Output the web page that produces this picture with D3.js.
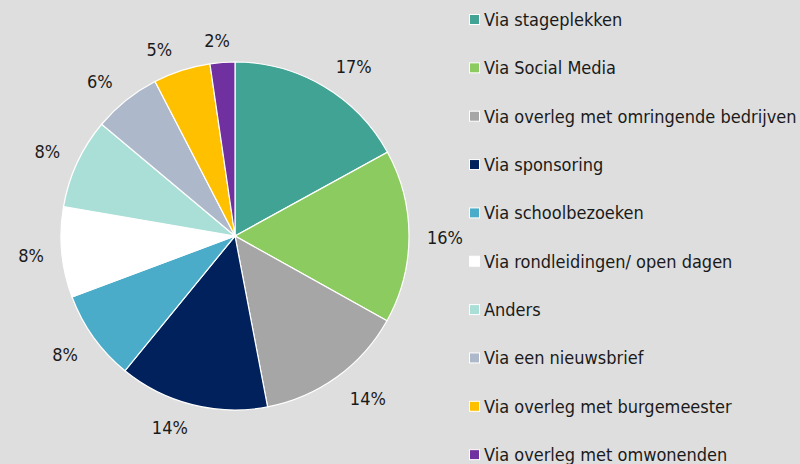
<!DOCTYPE html>
<html>
<head>
<meta charset="utf-8">
<script src="https://cdn.jsdelivr.net/npm/d3@7"></script>
<style>
  body { margin: 0; background: #dedede; }
  svg { display: block; }
</style>
</head>
<body>
<svg class="pieSVG" width="800" height="464"></svg>
<script>
const categories = [
  "Via stageplekken",
  "Via Social Media",
  "Via overleg met omringende bedrijven",
  "Via sponsoring",
  "Via schoolbezoeken",
  "Via rondleidingen/ open dagen",
  "Anders",
  "Via een nieuwsbrief",
  "Via overleg met burgemeester",
  "Via overleg met omwonenden"
]
const values = [17.0, 16.1, 13.9, 13.9, 8.4, 8.4, 8.4, 6.3, 5.3, 2.3]
const colors = ["#41a393", "#8ccb5f", "#a6a6a6", "#00215b", "#4bacc9", "#ffffff",
  "#aadfd8", "#adb9ca", "#ffc000", "#7030a0"]

const FONT = "'DejaVu Sans Condensed', 'DejaVu Sans', Verdana, sans-serif"

const svg = d3.select(".pieSVG")
const config = { cx: 235, cy: 236, r: 174, labelR: 186, padX: 6, padY: 3 }

const pie = d3.pie().sort(null).value(d => d)
const arcs = pie(values)
const arc = d3.arc().innerRadius(0).outerRadius(config.r)

const g = svg.append("g")
  .attr("transform", `translate(${config.cx},${config.cy})`)

g.selectAll("path")
  .data(arcs)
  .join("path")
  .attr("d", arc)
  .attr("fill", (d, i) => colors[i])
  .attr("stroke", "white")
  .attr("stroke-width", 1.2)

// labels buiten de taart: labelvak (met marge) met de dichtstbijzijnde hoek tegen het ankerpunt
const clamp = v => Math.max(-1, Math.min(1, v))
const labels = g.selectAll("text")
  .data(arcs)
  .join("text")
  .attr("text-anchor", "middle")
  .attr("dy", "0.4em")
  .attr("font-family", FONT)
  .attr("font-size", "18px")
  .attr("fill", "#1a1a1a")
  .text(d => Math.round(d.data) + "%")

labels.attr("transform", function (d) {
  const a = (d.startAngle + d.endAngle) / 2
  const s = Math.sin(a), c = Math.cos(a)
  const w = this.getComputedTextLength() + 2 * config.padX
  const h = 15 + 2 * config.padY
  const x = config.labelR * s + (w / 2) * clamp(3.3 * s)
  const y = -config.labelR * c - (h / 2) * clamp(1.5 * c)
  return `translate(${x},${y})`
})

// legenda
const legend = svg.append("g")
  .selectAll("g")
  .data(categories)
  .join("g")
  .attr("transform", (d, i) => `translate(469,${19.5 + i * 48.35})`)

legend.append("rect")
  .attr("x", 0.5)
  .attr("y", -5)
  .attr("width", 10)
  .attr("height", 10)
  .attr("fill", (d, i) => colors[i])
  .attr("stroke", "white")
  .attr("stroke-width", 1)

legend.append("text")
  .attr("x", 15)
  .attr("dy", "0.36em")
  .attr("font-family", FONT)
  .attr("font-size", "18px")
  .attr("fill", "#1a1a1a")
  .text(d => d)
</script>
</body>
</html>
